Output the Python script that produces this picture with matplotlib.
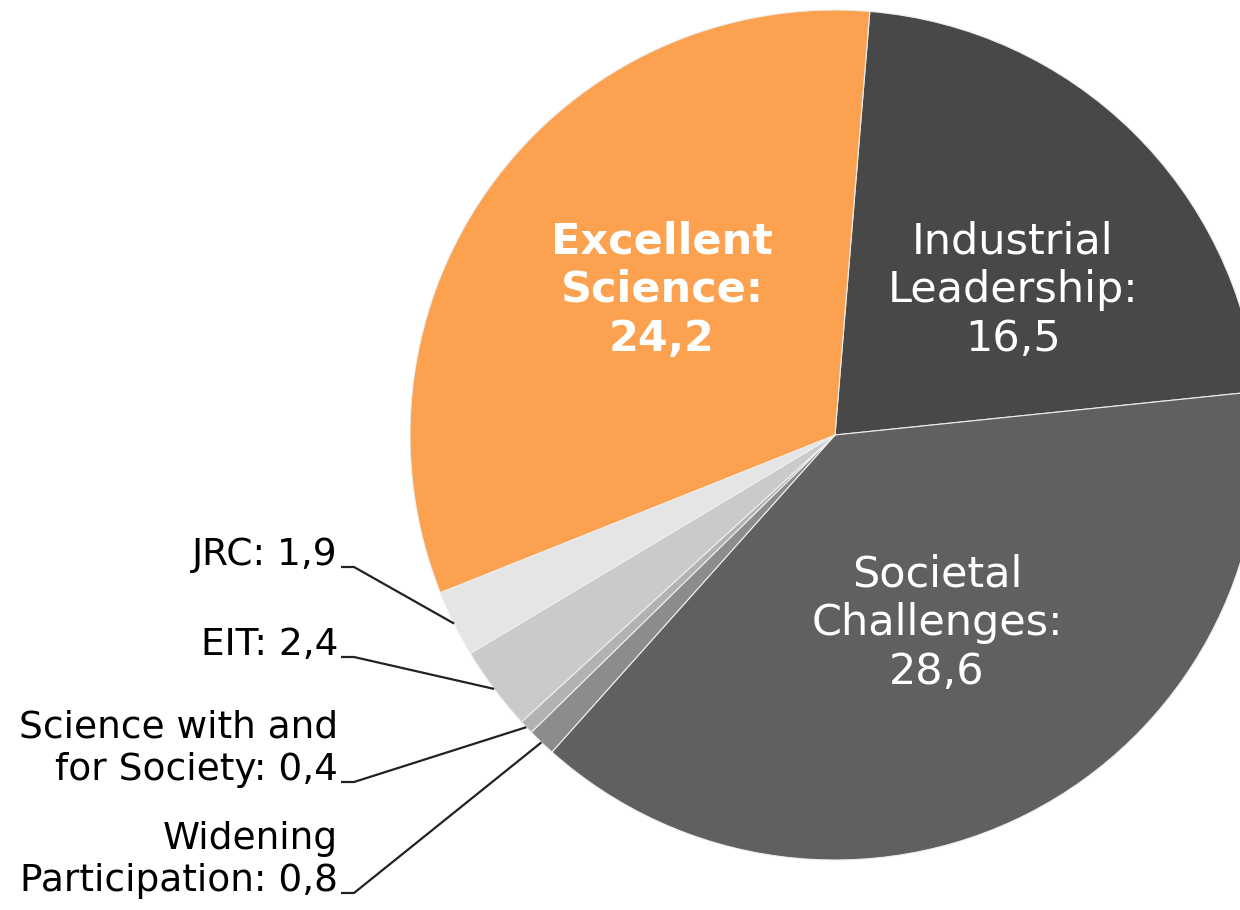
import numpy as np
import matplotlib.pyplot as plt

# Horizon 2020 budget split (bn EUR), clockwise from the top
labels = ["Industrial\nLeadership:\n16,5", "Societal\nChallenges:\n28,6",
          "Widening\nParticipation: 0,8", "Science with and\nfor Society: 0,4",
          "EIT: 2,4", "JRC: 1,9", "Excellent\nScience:\n24,2"]
values = [16.5, 28.6, 0.8, 0.4, 2.4, 1.9, 24.2]
colors = ["#484848", "#606060", "#8c8c8c", "#b2b2b2", "#cacaca", "#e5e5e5", "#fba14f"]

W, H = 1240, 910
cx, cy, R = 835, 435, 425   # pixel position of the pie


def px(x, y):
    # pixel (from top-left) -> data coords
    return x, H - y


fig = plt.figure(figsize=(12.4, 9.1), dpi=100)
ax = fig.add_axes([0, 0, 1, 1])
wedges, _ = ax.pie(values, colors=colors, startangle=85.3, counterclock=False,
                   center=px(cx, cy), radius=R,
                   wedgeprops=dict(edgecolor="#eeeeee", linewidth=0.8))
ax.set_xlim(0, W)
ax.set_ylim(0, H)
ax.set_aspect("equal")
ax.axis("off")

# big labels inside the slices
inner = {0: (1013, 290, "white", "normal"),
         1: (937, 623, "white", "normal"),
         6: (662, 290, "white", "bold")}
for i, (x, y, c, w) in inner.items():
    ax.text(*px(x, y), labels[i], ha="center", va="center", color=c,
            fontsize=31, fontweight=w, linespacing=1.2)

# small slices: labels on the left with leader lines
outer = {5: 567, 4: 657, 3: 782, 2: 893}
for i, y in outer.items():
    ax.text(*px(338, y + 6), labels[i], ha="right", va="bottom",
            fontsize=27, linespacing=1.22, color="black")
    w = wedges[i]
    mid = np.deg2rad((w.theta1 + w.theta2) / 2)
    ex, ey = w.center[0] + w.r * np.cos(mid), w.center[1] + w.r * np.sin(mid)
    ax.plot([341, 354, ex], [H - y, H - y, ey], color="#222222", lw=1.6,
            solid_capstyle="butt")

fig.savefig("out.png", dpi=100)
